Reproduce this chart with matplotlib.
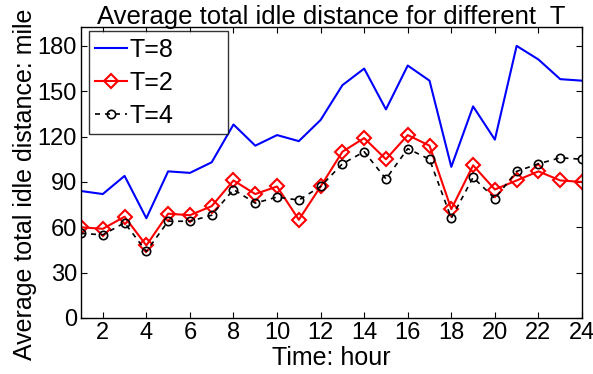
import matplotlib
matplotlib.use("Agg")
import matplotlib.pyplot as plt

hours = list(range(1, 25))
t8 = [84, 82, 94, 66, 97, 96, 103, 128, 114, 121, 117, 131, 154, 165, 138, 167, 157, 100, 140, 118, 180, 171, 158, 157]
t2 = [60, 59, 67, 48, 69, 68, 74, 91, 82, 87, 65, 87, 110, 119, 105, 121, 114, 72, 101, 85, 91, 97, 91, 90]
t4 = [56, 55, 63, 44, 64, 64, 68, 85, 76, 80, 78, 87, 102, 110, 92, 112, 105, 66, 93, 79, 97, 102, 106, 105]
xticks = list(range(2, 25, 2))
yticks = list(range(0, 181, 30))

plt.rcParams['font.family'] = ['Liberation Sans', 'DejaVu Sans']
fig = plt.figure(figsize=(5.93, 3.74), dpi=100)
ax = fig.add_axes([81/593, 1-318/374, (582-81)/593, (318-27)/374])

ax.plot(hours, t8, color='#0000ff', lw=1.5, label='T=8')
ax.plot(hours, t2, color='#ff0000', lw=1.5, marker='D', ms=7, mfc='none', mew=1.5, label='T=2')
ax.plot(hours, t4, color='black', lw=1.2, ls='--', marker='o', ms=6, mfc='none', mew=1.2, label='T=4', dashes=(3, 3))

ax.set_xlim(1, 24)
ax.set_ylim(0, 192.5)
ax.set_xticks(xticks)
ax.set_yticks(yticks)
ax.tick_params(direction='in', top=True, right=True, labelsize=17, length=4, width=0.8, pad=3)
for s in ax.spines.values():
    s.set_linewidth(1.0)
ax.set_title('Average total idle distance for different  T', fontsize=18.5, pad=2)
ax.set_xlabel('Time: hour', fontsize=18, labelpad=1)
ax.set_ylabel('Average total idle distance: mile', fontsize=18)
ax.yaxis.set_label_coords(-0.088, 0.46)
leg = ax.legend(loc='upper left', bbox_to_anchor=(0.016, 0.985, 0.278, 0), mode='expand',
                fontsize=18, frameon=True, fancybox=False,
                edgecolor='black', borderaxespad=0.0, handlelength=1.28,
                handletextpad=0.08, labelspacing=0.36, borderpad=0.25)
leg.get_frame().set_linewidth(1.0)
fig.savefig('out.png', dpi=100)
